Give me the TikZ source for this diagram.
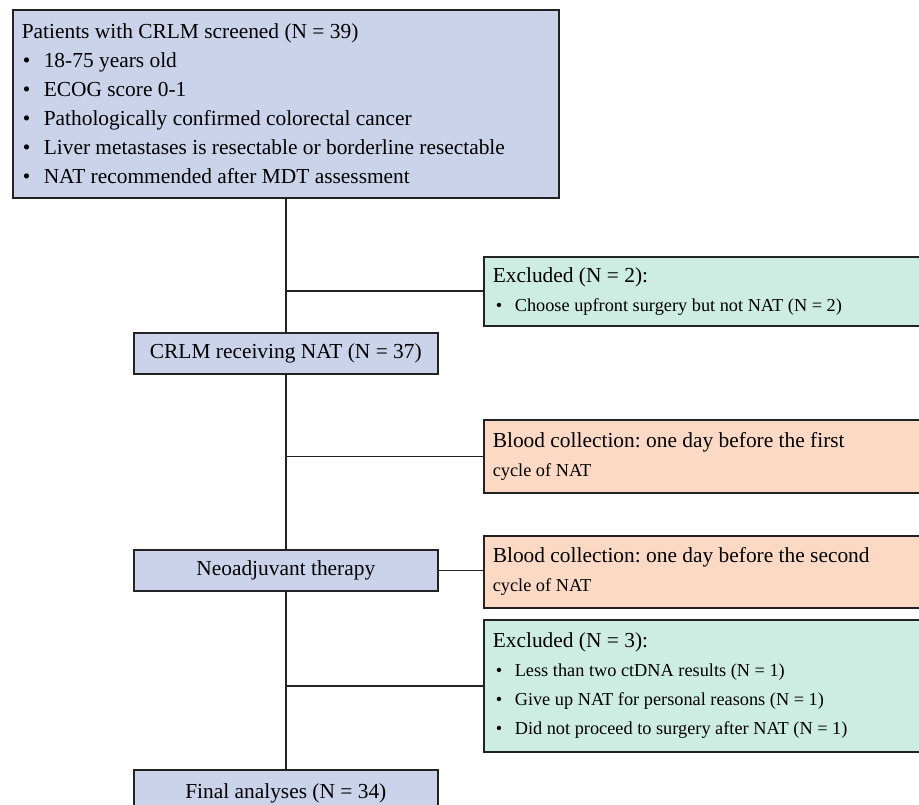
\documentclass[tikz,border=0pt]{standalone}
\usepackage{fontspec}
\setmainfont{Liberation Serif}
\usetikzlibrary{positioning}
\definecolor{azul}{RGB}{202,211,233}
\definecolor{verde}{RGB}{205,237,226}
\definecolor{salmon}{RGB}{252,217,196}
\definecolor{linea}{RGB}{35,35,35}
\newcommand{\grande}{\fontsize{21.4pt}{29pt}\selectfont}
\newcommand{\chico}{\fontsize{18.3pt}{29pt}\selectfont}
\newcommand{\punto}[1][1pt]{\makebox[22pt][l]{\hspace{#1}\textbullet}}
\frenchspacing
\tikzset{
    caja/.style={
        draw=linea,
        line width=1.6pt,
        inner xsep=9pt,
        inner ysep=0pt,
        anchor=north west,
        align=flush left,
        font=\grande
    },
    paso/.style={caja, fill=azul},
    excluido/.style={caja, fill=verde},
    sangre/.style={caja, fill=salmon},
    centro/.style={
        paso,
        align=flush center,
        minimum width=304pt,
        minimum height=41pt,
        text width=286pt
    }
}

\begin{document}
\begin{tikzpicture}[
    x=1pt,
    y=-1pt,
    line width=1.6pt
]
    \useasboundingbox (0,0) rectangle (919,805);
    \clip (0,0) rectangle (919,805);

    % Columna principal
    \node[paso, minimum width=546pt, minimum height=188pt, text width=528pt] (screen) at (12,9)
        {Patients with CRLM screened (N = 39)\\
         \punto 18-75 years old\\
         \punto ECOG score 0-1\\
         \punto Pathologically confirmed colorectal cancer\\
         \punto Liver metastases is resectable or borderline resectable\\
         \punto NAT recommended after MDT assessment};
    \node[centro] (crlm)  at (133,332) {CRLM receiving NAT (N = 37)};
    \node[centro] (neo)   at (133,549) {Neoadjuvant therapy};
    \node[centro, minimum height=48pt] (final) at (133,769) {Final analyses (N = 34)};

    % Columna derecha
    \node[excluido, minimum width=442pt, minimum height=69pt, text width=424pt] (excl1) at (483,256)
        {Excluded (N = 2):\\
         {\chico\punto[3pt]Choose upfront surgery but not NAT (N = 2)}};
    \node[sangre, minimum width=442pt, minimum height=73pt, text width=424pt] (blood1) at (483,419)
        {Blood collection: one day before the first\\
         {\chico cycle of NAT}};
    \node[sangre, minimum width=442pt, minimum height=72pt, text width=424pt] (blood2) at (483,535)
        {Blood collection: one day before the second\\
         {\chico cycle of NAT}};
    \node[excluido, minimum width=442pt, minimum height=132pt, text width=424pt] (excl2) at (483,619)
        {Excluded (N = 3):\\
         {\chico\punto[3pt]Less than two ctDNA results (N = 1)}\\
         {\chico\punto[3pt]Give up NAT for personal reasons (N = 1)}\\
         {\chico\punto[3pt]Did not proceed to surgery after NAT (N = 1)}};

    % Conexiones
    \draw[linea]
        (screen.south) -- (crlm.north)
        (crlm.south)   -- (neo.north)
        (neo.south)    -- (final.north);
    \draw[linea] (excl1.west -| crlm.north)  -- (excl1.west);
    \draw[linea] (blood1.west -| crlm.north) -- (blood1.west);
    \draw[linea] (neo.east)                  -- (neo.east -| blood2.west);
    \draw[linea] (excl2.west -| crlm.north)  -- (excl2.west);

\end{tikzpicture}
\end{document}
